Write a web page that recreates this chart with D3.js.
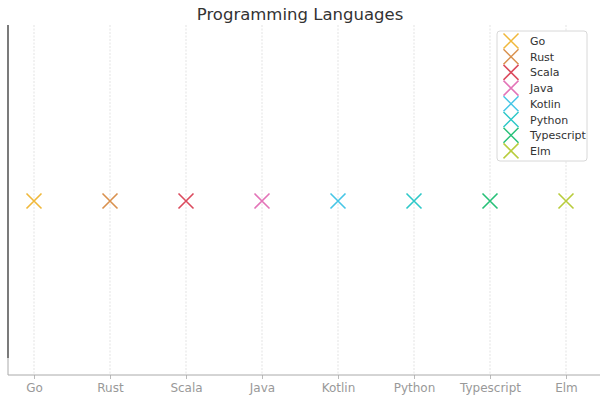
<!DOCTYPE html>
<html><head><meta charset="utf-8">
<script src="https://cdn.jsdelivr.net/npm/d3@7"></script>
<style>body{margin:0;background:#fff}svg{display:block}</style>
</head><body>
<svg id="c" width="600" height="399"></svg>
<script>
const categories = ["Go","Rust","Scala","Java","Kotlin","Python","Typescript","Elm"];
const values = [1,1,1,1,1,1,1,1];
const colors = ["#f0b83a","#d9914e","#db4b5e","#e374b8","#46c6e6","#2ec8c8","#27c078","#b8cc3c"];
const title = "Programming Languages";

(function () {
const svg = d3.select("#c");
const font = "DejaVu Sans, sans-serif";
const mLeft = 8, mRight = 600, mTop = 25, mBottom = 375;

const x = d3.scalePoint().domain(categories).range([34, 566]);
const y = d3.scaleLinear().domain([0, 2]).range([mBottom, mTop + 2]);

// grid
svg.append("g").selectAll("line").data(categories).join("line")
  .attr("x1", d => x(d)).attr("x2", d => x(d))
  .attr("y1", mTop).attr("y2", mBottom)
  .attr("stroke", "#dcdcdc").attr("stroke-width", 0.8).attr("stroke-dasharray", "2,1.5");

// x axis
const xa = svg.append("g").attr("transform", `translate(0,${mBottom})`)
  .call(d3.axisBottom(x).tickSize(4).tickPadding(4));
xa.select(".domain").remove();
xa.selectAll(".tick line").attr("stroke", "#bbb");
xa.selectAll(".tick text").attr("fill", "#999").attr("font-family", font).attr("font-size", 12);
svg.append("line").attr("x1", mLeft).attr("x2", mRight).attr("y1", mBottom).attr("y2", mBottom)
  .attr("stroke", "#aaa").attr("stroke-width", 1);

// left axis
svg.append("line").attr("x1", mLeft).attr("x2", mLeft).attr("y1", mTop).attr("y2", 358)
  .attr("stroke", "#222").attr("stroke-width", 1.2);
svg.append("line").attr("x1", mLeft).attr("x2", mLeft).attr("y1", 358).attr("y2", mBottom)
  .attr("stroke", "#aaa").attr("stroke-width", 1);

// markers
const cross = (s) => `M${-s},${-s}L${s},${s}M${-s},${s}L${s},${-s}`;
svg.append("g").selectAll("path").data(categories).join("path")
  .attr("transform", (d, i) => `translate(${x(d)},${y(values[i])})`)
  .attr("d", cross(7.5))
  .attr("stroke", (d, i) => colors[i]).attr("stroke-width", 1.6).attr("fill", "none");

// title
svg.append("text").attr("x", 300).attr("y", 20).attr("text-anchor", "middle")
  .attr("font-family", font).attr("font-size", 16.5).attr("fill", "#333").text(title);

// legend
const lg = svg.append("g");
lg.append("rect").attr("x", 497).attr("y", 31).attr("width", 90).attr("height", 130)
  .attr("rx", 3).attr("fill", "#fff").attr("stroke", "#d8d8d8");
const items = lg.selectAll("g").data(categories).join("g")
  .attr("transform", (d, i) => `translate(511,${41 + i * 15.7})`);
items.append("path").attr("d", cross(7.5))
  .attr("stroke", (d, i) => colors[i]).attr("stroke-width", 1.5).attr("fill", "none");
items.append("text").attr("x", 19).attr("y", 4).attr("font-family", font).attr("font-size", 11)
  .attr("fill", "#333").text(d => d);
})();
</script>
</body></html>
